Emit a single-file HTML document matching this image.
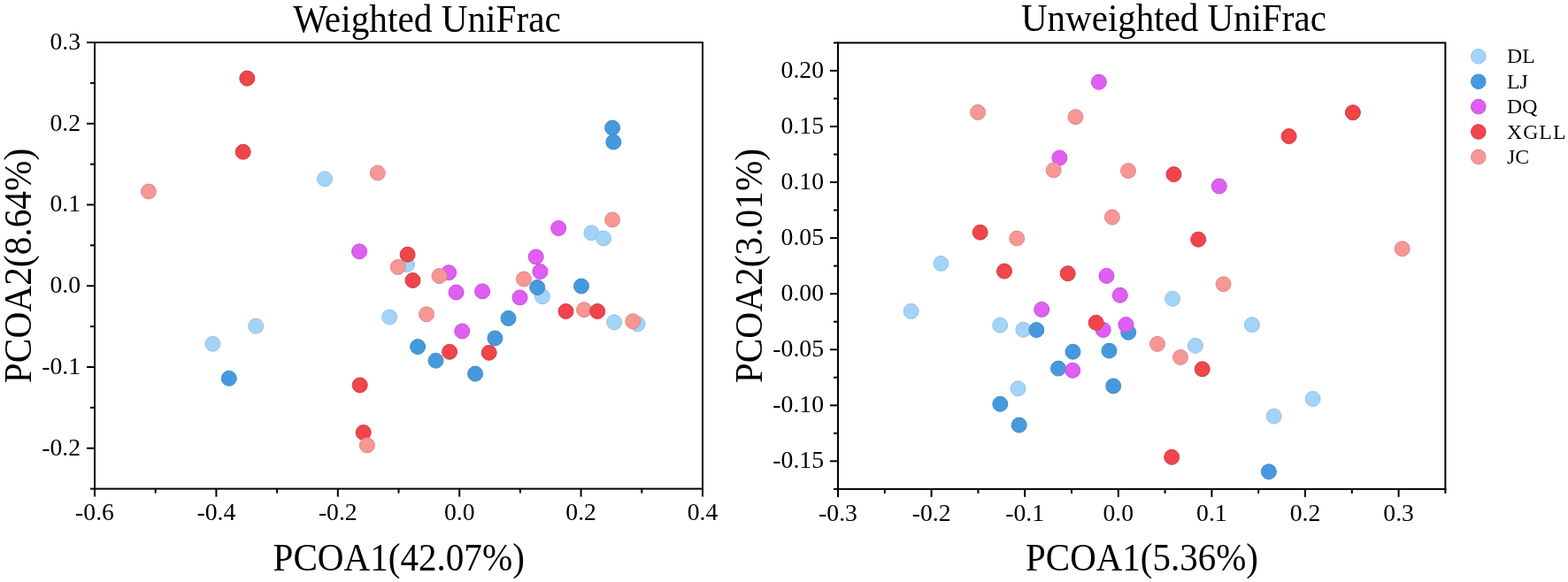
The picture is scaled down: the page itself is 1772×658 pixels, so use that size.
<!DOCTYPE html>
<html><head><meta charset="utf-8"><title>PCoA UniFrac</title>
<style>
html,body{margin:0;padding:0;background:#fff;}
svg{display:block;}
</style></head>
<body>
<svg width="1772" height="658" viewBox="0 0 1772 658" style="font-family:'Liberation Serif','Times New Roman',serif;fill:#000">
<rect width="1772" height="658" fill="#fff"/>
<rect x="107.00" y="48.00" width="687.00" height="504.60" fill="none" stroke="#000" stroke-width="2"/>
<line x1="107.00" y1="552.60" x2="107.00" y2="561.60" stroke="#000" stroke-width="2"/>
<line x1="244.40" y1="552.60" x2="244.40" y2="561.60" stroke="#000" stroke-width="2"/>
<line x1="381.80" y1="552.60" x2="381.80" y2="561.60" stroke="#000" stroke-width="2"/>
<line x1="519.20" y1="552.60" x2="519.20" y2="561.60" stroke="#000" stroke-width="2"/>
<line x1="656.60" y1="552.60" x2="656.60" y2="561.60" stroke="#000" stroke-width="2"/>
<line x1="794.00" y1="552.60" x2="794.00" y2="561.60" stroke="#000" stroke-width="2"/>
<line x1="175.70" y1="552.60" x2="175.70" y2="557.60" stroke="#000" stroke-width="2"/>
<line x1="313.10" y1="552.60" x2="313.10" y2="557.60" stroke="#000" stroke-width="2"/>
<line x1="450.50" y1="552.60" x2="450.50" y2="557.60" stroke="#000" stroke-width="2"/>
<line x1="587.90" y1="552.60" x2="587.90" y2="557.60" stroke="#000" stroke-width="2"/>
<line x1="725.30" y1="552.60" x2="725.30" y2="557.60" stroke="#000" stroke-width="2"/>
<line x1="98.00" y1="506.73" x2="107.00" y2="506.73" stroke="#000" stroke-width="2"/>
<line x1="98.00" y1="414.98" x2="107.00" y2="414.98" stroke="#000" stroke-width="2"/>
<line x1="98.00" y1="323.24" x2="107.00" y2="323.24" stroke="#000" stroke-width="2"/>
<line x1="98.00" y1="231.49" x2="107.00" y2="231.49" stroke="#000" stroke-width="2"/>
<line x1="98.00" y1="139.75" x2="107.00" y2="139.75" stroke="#000" stroke-width="2"/>
<line x1="98.00" y1="48.00" x2="107.00" y2="48.00" stroke="#000" stroke-width="2"/>
<line x1="102.00" y1="552.60" x2="107.00" y2="552.60" stroke="#000" stroke-width="2"/>
<line x1="102.00" y1="460.85" x2="107.00" y2="460.85" stroke="#000" stroke-width="2"/>
<line x1="102.00" y1="369.11" x2="107.00" y2="369.11" stroke="#000" stroke-width="2"/>
<line x1="102.00" y1="277.36" x2="107.00" y2="277.36" stroke="#000" stroke-width="2"/>
<line x1="102.00" y1="185.62" x2="107.00" y2="185.62" stroke="#000" stroke-width="2"/>
<line x1="102.00" y1="93.87" x2="107.00" y2="93.87" stroke="#000" stroke-width="2"/>
<text x="107.00" y="588.30" text-anchor="middle" font-size="27.7">-0.6</text>
<text x="244.40" y="588.30" text-anchor="middle" font-size="27.7">-0.4</text>
<text x="381.80" y="588.30" text-anchor="middle" font-size="27.7">-0.2</text>
<text x="519.20" y="588.30" text-anchor="middle" font-size="27.7">0.0</text>
<text x="656.60" y="588.30" text-anchor="middle" font-size="27.7">0.2</text>
<text x="794.00" y="588.30" text-anchor="middle" font-size="27.7">0.4</text>
<text x="91.00" y="514.53" text-anchor="end" font-size="27.7">-0.2</text>
<text x="91.00" y="422.78" text-anchor="end" font-size="27.7">-0.1</text>
<text x="91.00" y="331.04" text-anchor="end" font-size="27.7">0.0</text>
<text x="91.00" y="239.29" text-anchor="end" font-size="27.7">0.1</text>
<text x="91.00" y="147.55" text-anchor="end" font-size="27.7">0.2</text>
<text x="91.00" y="55.80" text-anchor="end" font-size="27.7">0.3</text>
<circle cx="367.0" cy="202.3" r="8.5" fill="#a4d3f8" stroke="#97c3e6" stroke-width="1"/>
<circle cx="668.4" cy="263.3" r="8.5" fill="#a4d3f8" stroke="#97c3e6" stroke-width="1"/>
<circle cx="682.1" cy="269.5" r="8.5" fill="#a4d3f8" stroke="#97c3e6" stroke-width="1"/>
<circle cx="460.0" cy="299.0" r="8.5" fill="#a4d3f8" stroke="#97c3e6" stroke-width="1"/>
<circle cx="440.2" cy="358.5" r="8.5" fill="#a4d3f8" stroke="#97c3e6" stroke-width="1"/>
<circle cx="240.4" cy="388.7" r="8.5" fill="#a4d3f8" stroke="#97c3e6" stroke-width="1"/>
<circle cx="289.2" cy="368.7" r="8.5" fill="#a4d3f8" stroke="#97c3e6" stroke-width="1"/>
<circle cx="612.9" cy="335.2" r="8.5" fill="#a4d3f8" stroke="#97c3e6" stroke-width="1"/>
<circle cx="694.1" cy="364.3" r="8.5" fill="#a4d3f8" stroke="#97c3e6" stroke-width="1"/>
<circle cx="720.6" cy="366.2" r="8.5" fill="#a4d3f8" stroke="#97c3e6" stroke-width="1"/>
<circle cx="692.1" cy="144.6" r="8.5" fill="#4699dd" stroke="#3f8ccc" stroke-width="1"/>
<circle cx="693.3" cy="160.6" r="8.5" fill="#4699dd" stroke="#3f8ccc" stroke-width="1"/>
<circle cx="657.0" cy="323.5" r="8.5" fill="#4699dd" stroke="#3f8ccc" stroke-width="1"/>
<circle cx="574.5" cy="359.9" r="8.5" fill="#4699dd" stroke="#3f8ccc" stroke-width="1"/>
<circle cx="559.4" cy="382.4" r="8.5" fill="#4699dd" stroke="#3f8ccc" stroke-width="1"/>
<circle cx="472.1" cy="392.1" r="8.5" fill="#4699dd" stroke="#3f8ccc" stroke-width="1"/>
<circle cx="492.5" cy="407.7" r="8.5" fill="#4699dd" stroke="#3f8ccc" stroke-width="1"/>
<circle cx="537.1" cy="422.6" r="8.5" fill="#4699dd" stroke="#3f8ccc" stroke-width="1"/>
<circle cx="258.8" cy="427.8" r="8.5" fill="#4699dd" stroke="#3f8ccc" stroke-width="1"/>
<circle cx="406.1" cy="284.3" r="8.5" fill="#e05ef3" stroke="#c64fd8" stroke-width="1"/>
<circle cx="631.2" cy="258.0" r="8.5" fill="#e05ef3" stroke="#c64fd8" stroke-width="1"/>
<circle cx="605.7" cy="290.4" r="8.5" fill="#e05ef3" stroke="#c64fd8" stroke-width="1"/>
<circle cx="610.4" cy="307.0" r="8.5" fill="#e05ef3" stroke="#c64fd8" stroke-width="1"/>
<circle cx="507.1" cy="308.2" r="8.5" fill="#e05ef3" stroke="#c64fd8" stroke-width="1"/>
<circle cx="515.6" cy="330.5" r="8.5" fill="#e05ef3" stroke="#c64fd8" stroke-width="1"/>
<circle cx="545.1" cy="329.4" r="8.5" fill="#e05ef3" stroke="#c64fd8" stroke-width="1"/>
<circle cx="587.5" cy="336.4" r="8.5" fill="#e05ef3" stroke="#c64fd8" stroke-width="1"/>
<circle cx="522.3" cy="374.4" r="8.5" fill="#e05ef3" stroke="#c64fd8" stroke-width="1"/>
<circle cx="607.2" cy="325.0" r="8.5" fill="#4699dd" stroke="#3f8ccc" stroke-width="1"/>
<circle cx="167.9" cy="216.5" r="8.5" fill="#f69794" stroke="#e08890" stroke-width="1"/>
<circle cx="426.8" cy="195.5" r="8.5" fill="#f69794" stroke="#e08890" stroke-width="1"/>
<circle cx="692.1" cy="248.4" r="8.5" fill="#f69794" stroke="#e08890" stroke-width="1"/>
<circle cx="449.7" cy="302.0" r="8.5" fill="#f69794" stroke="#e08890" stroke-width="1"/>
<circle cx="496.5" cy="312.1" r="8.5" fill="#f69794" stroke="#e08890" stroke-width="1"/>
<circle cx="482.0" cy="355.3" r="8.5" fill="#f69794" stroke="#e08890" stroke-width="1"/>
<circle cx="592.0" cy="315.5" r="8.5" fill="#f69794" stroke="#e08890" stroke-width="1"/>
<circle cx="660.0" cy="350.2" r="8.5" fill="#f69794" stroke="#e08890" stroke-width="1"/>
<circle cx="715.3" cy="363.3" r="8.5" fill="#f69794" stroke="#e08890" stroke-width="1"/>
<circle cx="279.3" cy="88.6" r="8.5" fill="#f0454a" stroke="#cf3c45" stroke-width="1"/>
<circle cx="274.7" cy="171.7" r="8.5" fill="#f0454a" stroke="#cf3c45" stroke-width="1"/>
<circle cx="460.6" cy="287.7" r="8.5" fill="#f0454a" stroke="#cf3c45" stroke-width="1"/>
<circle cx="466.5" cy="317.0" r="8.5" fill="#f0454a" stroke="#cf3c45" stroke-width="1"/>
<circle cx="406.7" cy="435.4" r="8.5" fill="#f0454a" stroke="#cf3c45" stroke-width="1"/>
<circle cx="410.7" cy="489.0" r="8.5" fill="#f0454a" stroke="#cf3c45" stroke-width="1"/>
<circle cx="508.1" cy="397.8" r="8.5" fill="#f0454a" stroke="#cf3c45" stroke-width="1"/>
<circle cx="552.7" cy="398.8" r="8.5" fill="#f0454a" stroke="#cf3c45" stroke-width="1"/>
<circle cx="639.5" cy="352.0" r="8.5" fill="#f0454a" stroke="#cf3c45" stroke-width="1"/>
<circle cx="675.2" cy="352.0" r="8.5" fill="#f0454a" stroke="#cf3c45" stroke-width="1"/>
<circle cx="414.9" cy="503.4" r="8.5" fill="#f69794" stroke="#e08890" stroke-width="1"/>
<rect x="947.00" y="48.40" width="686.40" height="504.50" fill="none" stroke="#000" stroke-width="2"/>
<line x1="947.00" y1="552.90" x2="947.00" y2="561.90" stroke="#000" stroke-width="2"/>
<line x1="1052.60" y1="552.90" x2="1052.60" y2="561.90" stroke="#000" stroke-width="2"/>
<line x1="1158.20" y1="552.90" x2="1158.20" y2="561.90" stroke="#000" stroke-width="2"/>
<line x1="1263.80" y1="552.90" x2="1263.80" y2="561.90" stroke="#000" stroke-width="2"/>
<line x1="1369.40" y1="552.90" x2="1369.40" y2="561.90" stroke="#000" stroke-width="2"/>
<line x1="1475.00" y1="552.90" x2="1475.00" y2="561.90" stroke="#000" stroke-width="2"/>
<line x1="1580.60" y1="552.90" x2="1580.60" y2="561.90" stroke="#000" stroke-width="2"/>
<line x1="999.80" y1="552.90" x2="999.80" y2="557.90" stroke="#000" stroke-width="2"/>
<line x1="1105.40" y1="552.90" x2="1105.40" y2="557.90" stroke="#000" stroke-width="2"/>
<line x1="1211.00" y1="552.90" x2="1211.00" y2="557.90" stroke="#000" stroke-width="2"/>
<line x1="1316.60" y1="552.90" x2="1316.60" y2="557.90" stroke="#000" stroke-width="2"/>
<line x1="1422.20" y1="552.90" x2="1422.20" y2="557.90" stroke="#000" stroke-width="2"/>
<line x1="1527.80" y1="552.90" x2="1527.80" y2="557.90" stroke="#000" stroke-width="2"/>
<line x1="1633.40" y1="552.90" x2="1633.40" y2="557.90" stroke="#000" stroke-width="2"/>
<line x1="938.00" y1="521.37" x2="947.00" y2="521.37" stroke="#000" stroke-width="2"/>
<line x1="938.00" y1="458.31" x2="947.00" y2="458.31" stroke="#000" stroke-width="2"/>
<line x1="938.00" y1="395.24" x2="947.00" y2="395.24" stroke="#000" stroke-width="2"/>
<line x1="938.00" y1="332.18" x2="947.00" y2="332.18" stroke="#000" stroke-width="2"/>
<line x1="938.00" y1="269.12" x2="947.00" y2="269.12" stroke="#000" stroke-width="2"/>
<line x1="938.00" y1="206.06" x2="947.00" y2="206.06" stroke="#000" stroke-width="2"/>
<line x1="938.00" y1="142.99" x2="947.00" y2="142.99" stroke="#000" stroke-width="2"/>
<line x1="938.00" y1="79.93" x2="947.00" y2="79.93" stroke="#000" stroke-width="2"/>
<line x1="942.00" y1="552.90" x2="947.00" y2="552.90" stroke="#000" stroke-width="2"/>
<line x1="942.00" y1="489.84" x2="947.00" y2="489.84" stroke="#000" stroke-width="2"/>
<line x1="942.00" y1="426.77" x2="947.00" y2="426.77" stroke="#000" stroke-width="2"/>
<line x1="942.00" y1="363.71" x2="947.00" y2="363.71" stroke="#000" stroke-width="2"/>
<line x1="942.00" y1="300.65" x2="947.00" y2="300.65" stroke="#000" stroke-width="2"/>
<line x1="942.00" y1="237.59" x2="947.00" y2="237.59" stroke="#000" stroke-width="2"/>
<line x1="942.00" y1="174.53" x2="947.00" y2="174.53" stroke="#000" stroke-width="2"/>
<line x1="942.00" y1="111.46" x2="947.00" y2="111.46" stroke="#000" stroke-width="2"/>
<line x1="942.00" y1="48.40" x2="947.00" y2="48.40" stroke="#000" stroke-width="2"/>
<text x="947.00" y="588.60" text-anchor="middle" font-size="27.7">-0.3</text>
<text x="1052.60" y="588.60" text-anchor="middle" font-size="27.7">-0.2</text>
<text x="1158.20" y="588.60" text-anchor="middle" font-size="27.7">-0.1</text>
<text x="1263.80" y="588.60" text-anchor="middle" font-size="27.7">0.0</text>
<text x="1369.40" y="588.60" text-anchor="middle" font-size="27.7">0.1</text>
<text x="1475.00" y="588.60" text-anchor="middle" font-size="27.7">0.2</text>
<text x="1580.60" y="588.60" text-anchor="middle" font-size="27.7">0.3</text>
<text x="931.00" y="529.17" text-anchor="end" font-size="27.7">-0.15</text>
<text x="931.00" y="466.11" text-anchor="end" font-size="27.7">-0.10</text>
<text x="931.00" y="403.04" text-anchor="end" font-size="27.7">-0.05</text>
<text x="931.00" y="339.98" text-anchor="end" font-size="27.7">0.00</text>
<text x="931.00" y="276.92" text-anchor="end" font-size="27.7">0.05</text>
<text x="931.00" y="213.86" text-anchor="end" font-size="27.7">0.10</text>
<text x="931.00" y="150.79" text-anchor="end" font-size="27.7">0.15</text>
<text x="931.00" y="87.73" text-anchor="end" font-size="27.7">0.20</text>
<circle cx="1063.4" cy="297.9" r="8.5" fill="#a4d3f8" stroke="#97c3e6" stroke-width="1"/>
<circle cx="1029.6" cy="351.9" r="8.5" fill="#a4d3f8" stroke="#97c3e6" stroke-width="1"/>
<circle cx="1130.2" cy="367.7" r="8.5" fill="#a4d3f8" stroke="#97c3e6" stroke-width="1"/>
<circle cx="1156.4" cy="372.7" r="8.5" fill="#a4d3f8" stroke="#97c3e6" stroke-width="1"/>
<circle cx="1150.5" cy="439.3" r="8.5" fill="#a4d3f8" stroke="#97c3e6" stroke-width="1"/>
<circle cx="1325.1" cy="337.7" r="8.5" fill="#a4d3f8" stroke="#97c3e6" stroke-width="1"/>
<circle cx="1350.9" cy="390.8" r="8.5" fill="#a4d3f8" stroke="#97c3e6" stroke-width="1"/>
<circle cx="1414.9" cy="367.2" r="8.5" fill="#a4d3f8" stroke="#97c3e6" stroke-width="1"/>
<circle cx="1483.6" cy="451.0" r="8.5" fill="#a4d3f8" stroke="#97c3e6" stroke-width="1"/>
<circle cx="1439.7" cy="470.6" r="8.5" fill="#a4d3f8" stroke="#97c3e6" stroke-width="1"/>
<circle cx="1171.3" cy="373.1" r="8.5" fill="#4699dd" stroke="#3f8ccc" stroke-width="1"/>
<circle cx="1212.5" cy="397.7" r="8.5" fill="#4699dd" stroke="#3f8ccc" stroke-width="1"/>
<circle cx="1253.5" cy="396.5" r="8.5" fill="#4699dd" stroke="#3f8ccc" stroke-width="1"/>
<circle cx="1196.0" cy="416.6" r="8.5" fill="#4699dd" stroke="#3f8ccc" stroke-width="1"/>
<circle cx="1258.2" cy="436.4" r="8.5" fill="#4699dd" stroke="#3f8ccc" stroke-width="1"/>
<circle cx="1130.3" cy="456.8" r="8.5" fill="#4699dd" stroke="#3f8ccc" stroke-width="1"/>
<circle cx="1151.7" cy="480.6" r="8.5" fill="#4699dd" stroke="#3f8ccc" stroke-width="1"/>
<circle cx="1275.2" cy="375.8" r="8.5" fill="#4699dd" stroke="#3f8ccc" stroke-width="1"/>
<circle cx="1433.9" cy="533.3" r="8.5" fill="#4699dd" stroke="#3f8ccc" stroke-width="1"/>
<circle cx="1241.9" cy="92.8" r="8.5" fill="#e05ef3" stroke="#c64fd8" stroke-width="1"/>
<circle cx="1197.4" cy="178.4" r="8.5" fill="#e05ef3" stroke="#c64fd8" stroke-width="1"/>
<circle cx="1377.8" cy="210.5" r="8.5" fill="#e05ef3" stroke="#c64fd8" stroke-width="1"/>
<circle cx="1177.2" cy="349.9" r="8.5" fill="#e05ef3" stroke="#c64fd8" stroke-width="1"/>
<circle cx="1250.5" cy="311.9" r="8.5" fill="#e05ef3" stroke="#c64fd8" stroke-width="1"/>
<circle cx="1265.8" cy="333.8" r="8.5" fill="#e05ef3" stroke="#c64fd8" stroke-width="1"/>
<circle cx="1246.7" cy="373.0" r="8.5" fill="#e05ef3" stroke="#c64fd8" stroke-width="1"/>
<circle cx="1272.4" cy="367.1" r="8.5" fill="#e05ef3" stroke="#c64fd8" stroke-width="1"/>
<circle cx="1212.2" cy="418.8" r="8.5" fill="#e05ef3" stroke="#c64fd8" stroke-width="1"/>
<circle cx="1105.1" cy="126.9" r="8.5" fill="#f69794" stroke="#e08890" stroke-width="1"/>
<circle cx="1215.5" cy="132.2" r="8.5" fill="#f69794" stroke="#e08890" stroke-width="1"/>
<circle cx="1190.7" cy="192.4" r="8.5" fill="#f69794" stroke="#e08890" stroke-width="1"/>
<circle cx="1275.0" cy="193.1" r="8.5" fill="#f69794" stroke="#e08890" stroke-width="1"/>
<circle cx="1256.9" cy="245.6" r="8.5" fill="#f69794" stroke="#e08890" stroke-width="1"/>
<circle cx="1149.2" cy="269.5" r="8.5" fill="#f69794" stroke="#e08890" stroke-width="1"/>
<circle cx="1382.6" cy="321.3" r="8.5" fill="#f69794" stroke="#e08890" stroke-width="1"/>
<circle cx="1584.7" cy="281.3" r="8.5" fill="#f69794" stroke="#e08890" stroke-width="1"/>
<circle cx="1308.0" cy="388.9" r="8.5" fill="#f69794" stroke="#e08890" stroke-width="1"/>
<circle cx="1334.0" cy="403.9" r="8.5" fill="#f69794" stroke="#e08890" stroke-width="1"/>
<circle cx="1528.9" cy="127.2" r="8.5" fill="#f0454a" stroke="#cf3c45" stroke-width="1"/>
<circle cx="1456.6" cy="154.1" r="8.5" fill="#f0454a" stroke="#cf3c45" stroke-width="1"/>
<circle cx="1326.5" cy="197.1" r="8.5" fill="#f0454a" stroke="#cf3c45" stroke-width="1"/>
<circle cx="1107.7" cy="262.7" r="8.5" fill="#f0454a" stroke="#cf3c45" stroke-width="1"/>
<circle cx="1354.2" cy="270.7" r="8.5" fill="#f0454a" stroke="#cf3c45" stroke-width="1"/>
<circle cx="1135.0" cy="306.6" r="8.5" fill="#f0454a" stroke="#cf3c45" stroke-width="1"/>
<circle cx="1206.7" cy="309.2" r="8.5" fill="#f0454a" stroke="#cf3c45" stroke-width="1"/>
<circle cx="1238.7" cy="364.8" r="8.5" fill="#f0454a" stroke="#cf3c45" stroke-width="1"/>
<circle cx="1358.7" cy="417.3" r="8.5" fill="#f0454a" stroke="#cf3c45" stroke-width="1"/>
<circle cx="1324.2" cy="516.8" r="8.5" fill="#f0454a" stroke="#cf3c45" stroke-width="1"/>
<text transform="translate(482.55 35.5) scale(0.949 1)" text-anchor="middle" font-size="43.5">Weighted UniFrac</text>
<text transform="translate(1326.45 35.4) scale(0.9426 1)" text-anchor="middle" font-size="43.5">Unweighted UniFrac</text>
<text transform="translate(450.7 645.2) scale(0.945 1)" text-anchor="middle" font-size="43.5">PCOA1(42.07%)</text>
<text transform="translate(1290.5 645.2) scale(0.942 1)" text-anchor="middle" font-size="43.5">PCOA1(5.36%)</text>
<text transform="translate(34.9 300.45) rotate(-90) scale(0.951 1)" text-anchor="middle" font-size="43.5">PCOA2(8.64%)</text>
<text transform="translate(861.0 300.55) rotate(-90) scale(0.951 1)" text-anchor="middle" font-size="43.5">PCOA2(3.01%)</text>
<circle cx="1670.8" cy="63.8" r="8.3" fill="#a4d3f8" stroke="#97c3e6" stroke-width="1"/>
<text x="1703" y="71.4" font-size="23.8">DL</text>
<circle cx="1670.8" cy="92.2" r="8.3" fill="#4699dd" stroke="#3f8ccc" stroke-width="1"/>
<text x="1703" y="99.8" font-size="23.8">LJ</text>
<circle cx="1670.8" cy="120.6" r="8.3" fill="#e05ef3" stroke="#c64fd8" stroke-width="1"/>
<text x="1703" y="128.2" font-size="23.8">DQ</text>
<circle cx="1670.8" cy="149.0" r="8.3" fill="#f0454a" stroke="#cf3c45" stroke-width="1"/>
<text x="1703" y="156.6" font-size="23.8" letter-spacing="1">XGLL</text>
<circle cx="1670.8" cy="177.4" r="8.3" fill="#f69794" stroke="#e08890" stroke-width="1"/>
<text x="1703" y="185.0" font-size="23.8">JC</text>
</svg>
</body></html>
